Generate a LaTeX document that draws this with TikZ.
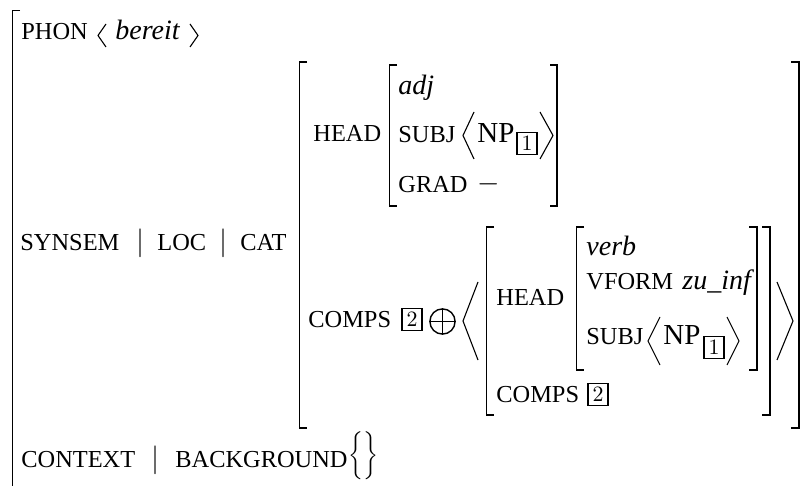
\documentclass[tikz,border=0pt]{standalone}
\usepackage{fontspec}
\setmainfont{Liberation Serif}

\begin{document}
\begin{tikzpicture}[
    x=0.5pt, y=-0.5pt,
    % Estilo para atributos (versalitas)
    attr_node/.style={
        anchor=base west,
        inner sep=0pt,
        font=\fontsize{12.2}{14}\selectfont
    },
    % Estilo para valores (tipos en cursiva)
    val_node/.style={
        anchor=base west,
        inner sep=0pt,
        font=\fontsize{14}{17}\selectfont\itshape
    },
    % Estilo para texto normal (NP, signos)
    plain_node/.style={
        anchor=base west,
        inner sep=0pt,
        font=\fontsize{14.5}{17}\selectfont
    },
    % Etiquetas en caja
    tag_node/.style={
        draw,
        line width=0.75pt,
        inner sep=0pt,
        minimum width=10.2pt,
        minimum height=10.8pt,
        font=\fontsize{10.5}{12}\selectfont
    },
    % Corchetes
    bracket/.style={
        line width=0.6pt
    },
    % Parentesis angulares
    angle/.style={
        line width=0.55pt
    }
]
    \useasboundingbox (0,0) rectangle (804,486);

    % --- 1. Matriz exterior ---
    \draw[bracket, line width=0.8pt] (20,10.5) -- (12.5,10.5) -- (12.5,490);

    % PHON
    \node[attr_node] (phon) at (21,40) {PHON};
    \draw[angle] (106,24) -- (98,35.5) -- (106,47);
    \node[val_node] (bereit) at (115,40) {bereit};
    \draw[angle] (190,24) -- (198,35.5) -- (190,47);

    % SYNSEM | LOC | CAT
    \node[attr_node] (synsem) at (20,251) {SYNSEM};
    \node[plain_node, anchor=base] (bar_a) at (140,251) {$|$};
    \node[attr_node] (loc) at (157,251) {LOC};
    \node[plain_node, anchor=base] (bar_b) at (223,251) {$|$};
    \node[attr_node] (cat) at (240,251) {CAT};

    % CONTEXT | BACKGROUND
    \node[attr_node] (context) at (21,467) {CONTEXT};
    \node[plain_node, anchor=base] (bar_c) at (155,467) {$|$};
    \node[attr_node] (background) at (175,467) {BACKGROUND};
    \node[plain_node, font=\fontsize{14.5}{17}\selectfont] (bg_set) at (348,463) {$\bigg\{\bigg\}$};

    % --- 2. Matriz CAT ---
    \draw[bracket] (307,62) -- (299.5,62) -- (299.5,428) -- (307,428);
    \draw[bracket] (791,62) -- (799,62) -- (799,428) -- (791,428);

    % HEAD adj
    \node[attr_node] (head_cat) at (313,142) {HEAD};
    \draw[bracket] (397,65) -- (389.5,65) -- (389.5,206) -- (397,206);
    \draw[bracket] (550,65) -- (557,65) -- (557,206) -- (550,206);
    \node[val_node] (adj) at (398,95) {adj};
    \node[attr_node] (subj_adj) at (398,143) {SUBJ};
    \draw[angle] (474,112) -- (463,135.5) -- (474,159);
    \node[plain_node] (np_adj) at (477,143) {NP};
    \node[tag_node] (tag_one_a) at (527,143.5) {$1$};
    \draw[angle] (540,112) -- (553,135.5) -- (540,159);
    \node[attr_node] (grad) at (398,193) {GRAD};
    \node[plain_node] (grad_val) at (477,192) {$-$};

    % COMPS 2 + < ... >
    \node[attr_node] (comps_cat) at (308,328) {COMPS};
    \node[tag_node] (tag_two_a) at (412,319.5) {$2$};
    \draw[angle, line width=0.7pt] (442.5,321.5) circle[radius=6.3pt];
    \draw[angle, line width=0.7pt] (429.9,321.5) -- (455.1,321.5) (442.5,308.9) -- (442.5,334.1);
    \draw[angle] (478,282) -- (463,321) -- (478,360);
    \draw[angle] (777,282) -- (793,321) -- (777,360);

    % --- 3. Complemento (verbo zu-Infinitiv) ---
    \draw[bracket] (494,227) -- (486.5,227) -- (486.5,415) -- (494,415);
    \draw[bracket] (762,227) -- (770,227) -- (770,415) -- (762,415);
    \node[attr_node] (head_comp) at (496,306) {HEAD};
    \draw[bracket] (584,227) -- (576.5,227) -- (576.5,370) -- (584,370);
    \draw[bracket] (749,227) -- (757,227) -- (757,370) -- (749,370);
    \node[val_node] (verb) at (586,256) {verb};
    \node[attr_node] (vform) at (586,290) {VFORM};
    \node[val_node] (zuinf) at (682,290) {zu\_inf};
    \node[attr_node] (subj_verb) at (586,345) {SUBJ};
    \draw[angle] (660,317) -- (648,341) -- (660,365);
    \node[plain_node] (np_verb) at (663,345) {NP};
    \node[tag_node] (tag_one_b) at (714,347.5) {$1$};
    \draw[angle] (727,317) -- (739,341) -- (727,365);
    \node[attr_node] (comps_comp) at (496,402) {COMPS};
    \node[tag_node] (tag_two_b) at (598,394.5) {$2$};

\end{tikzpicture}
\end{document}
